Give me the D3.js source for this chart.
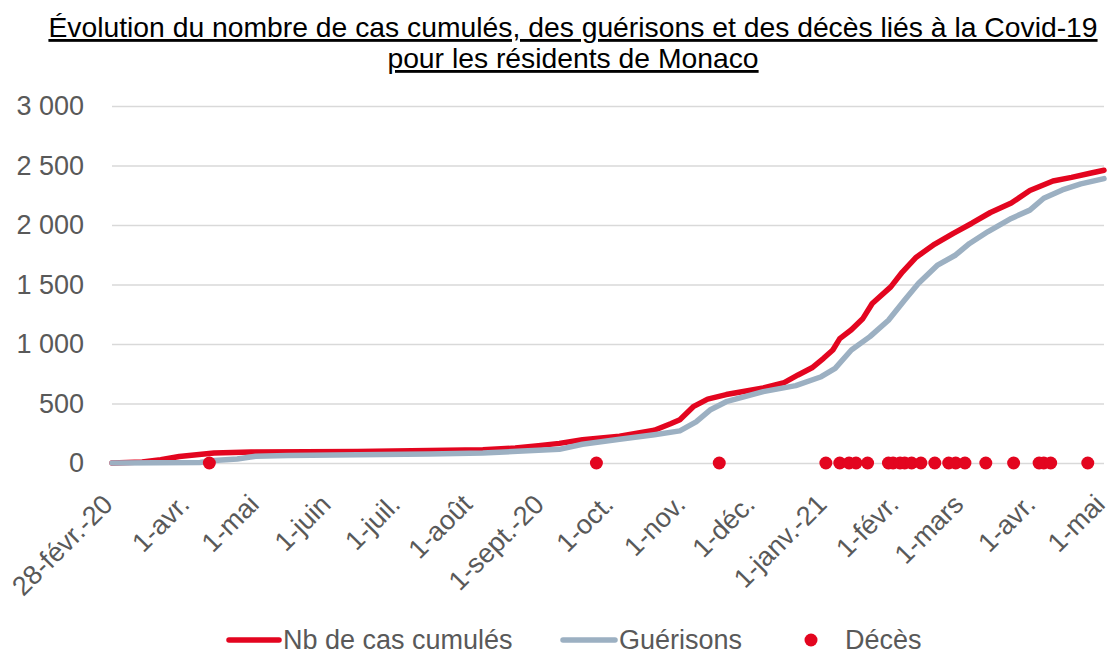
<!DOCTYPE html>
<html>
<head>
<meta charset="utf-8">
<script src="https://cdn.jsdelivr.net/npm/d3@7"></script>
<style>
  body { margin: 0; background: #fff; }
  svg { display: block; font-family: "Liberation Sans", Arial, sans-serif; }
</style>
</head>
<body>
<svg id="chart" width="1110" height="655"></svg>
<script>
const titleLines = [
    "Évolution du nombre de cas cumulés, des guérisons et des décès liés à la Covid-19",
    "pour les résidents de Monaco"
];

// cumulative cases
const casDates = ["2020-02-28", "2020-03-12", "2020-03-20", "2020-03-28", "2020-04-12", "2020-04-28",
    "2020-06-13", "2020-07-14", "2020-08-06", "2020-08-20", "2020-08-30", "2020-09-08", "2020-09-18",
    "2020-10-04", "2020-10-19", "2020-10-26", "2020-10-30", "2020-11-05", "2020-11-11", "2020-11-19",
    "2020-12-05", "2020-12-14", "2020-12-20", "2020-12-26", "2020-12-31", "2021-01-04", "2021-01-07",
    "2021-01-12", "2021-01-17", "2021-01-21", "2021-01-29", "2021-02-03", "2021-02-09", "2021-02-17",
    "2021-02-25", "2021-03-05", "2021-03-13", "2021-03-22", "2021-03-30", "2021-04-09", "2021-04-17",
    "2021-04-25", "2021-05-01"];
const casValues = [0, 8, 28, 55, 84, 92,
    96, 104, 112, 126, 146, 165, 196,
    225, 275, 330, 364, 476, 537, 575,
    630, 675, 740, 800, 880, 950, 1045,
    1120, 1215, 1340, 1480, 1605, 1730, 1840,
    1930, 2015, 2105, 2185, 2290, 2370, 2400,
    2435, 2460];

// recoveries
const guerDates = ["2020-02-28", "2020-04-06", "2020-04-12", "2020-04-22", "2020-04-30", "2020-05-14",
    "2020-06-13", "2020-07-14", "2020-08-06", "2020-08-21", "2020-09-08", "2020-09-18", "2020-10-04",
    "2020-10-19", "2020-10-30", "2020-11-06", "2020-11-12", "2020-11-19", "2020-12-05", "2020-12-19",
    "2020-12-30", "2021-01-05", "2021-01-12", "2021-01-20", "2021-01-28", "2021-02-04", "2021-02-10",
    "2021-02-18", "2021-02-26", "2021-03-04", "2021-03-12", "2021-03-22", "2021-03-30", "2021-04-05",
    "2021-04-13", "2021-04-21", "2021-05-01"];
const guerValues = [0, 5, 22, 34, 56, 64,
    70, 75, 84, 98, 115, 158, 200,
    238, 270, 345, 445, 515, 600, 650,
    725, 795, 950, 1062, 1200, 1370, 1510,
    1660, 1748, 1845, 1945, 2055, 2125, 2225,
    2295, 2345, 2390];

// days with a death (plotted at 0)
const decesDates = ["2020-04-10", "2020-09-24", "2020-11-16",
    "2021-01-01", "2021-01-07", "2021-01-11", "2021-01-14", "2021-01-19", "2021-01-28", "2021-01-30",
    "2021-02-02", "2021-02-04", "2021-02-07", "2021-02-11", "2021-02-17", "2021-02-23", "2021-02-26",
    "2021-03-02", "2021-03-11", "2021-03-23", "2021-04-03", "2021-04-05", "2021-04-08", "2021-04-24"];

const tickDates = ["2020-02-28", "2020-04-01", "2020-05-01", "2020-06-01", "2020-07-01", "2020-08-01",
    "2020-09-01", "2020-10-01", "2020-11-01", "2020-12-01", "2021-01-01", "2021-02-01", "2021-03-01",
    "2021-04-01", "2021-05-01"];
const tickLabels = ["28-févr.-20", "1-avr.", "1-mai", "1-juin", "1-juil.", "1-août",
    "1-sept.-20", "1-oct.", "1-nov.", "1-déc.", "1-janv.-21", "1-févr.", "1-mars",
    "1-avr.", "1-mai"];
const yTicks = [0, 500, 1000, 1500, 2000, 2500, 3000];

const seriesNames = ["Nb de cas cumulés", "Guérisons", "Décès"];
const colors = { cas: "#e3051f", guer: "#9cb0c2", text: "#595959", grid: "#d9d9d9" };

const parse = d3.timeParse("%Y-%m-%d");
const cas = casDates.map((d, i) => ({ date: parse(d), value: casValues[i] }));
const guer = guerDates.map((d, i) => ({ date: parse(d), value: guerValues[i] }));
const deces = decesDates.map(d => ({ date: parse(d), value: 0 }));

const svg = d3.select("#chart");
const margin = { top: 106, right: 6, bottom: 192, left: 112 };
const width = 1110, height = 655;

const x = d3.scaleTime()
    .domain([parse(tickDates[0]), parse(tickDates[tickDates.length - 1])])
    .range([margin.left, width - margin.right]);
const y = d3.scaleLinear()
    .domain([0, 3000])
    .range([height - margin.bottom, margin.top]);

const fr = d3.formatLocale({ decimal: ",", thousands: " ", grouping: [3], currency: ["", " €"] });

// title
svg.append("g").selectAll("text")
    .data(titleLines)
    .join("text")
    .attr("x", 573)
    .attr("y", (d, i) => 37 + i * 31)
    .attr("text-anchor", "middle")
    .attr("font-size", 28.3)
    .attr("fill", "#000")
    .style("text-decoration", "underline")
    .text(d => d);

// y axis + grid
const yAxisG = svg.append("g")
    .attr("transform", `translate(${margin.left},0)`)
    .call(d3.axisLeft(y)
        .tickValues(yTicks)
        .tickSize(-(width - margin.left - margin.right))
        .tickPadding(28)
        .tickFormat(fr.format(",")));
yAxisG.select(".domain").remove();
yAxisG.selectAll("line").attr("stroke", colors.grid).attr("stroke-width", 1.5);
yAxisG.selectAll("text")
    .attr("font-size", 27)
    .attr("font-family", "Liberation Sans, Arial, sans-serif")
    .attr("fill", colors.text);

// x axis
const xAxisG = svg.append("g")
    .attr("transform", `translate(0,${y(0)})`)
    .call(d3.axisBottom(x)
        .tickValues(tickDates.map(parse))
        .tickSize(0)
        .tickFormat((d, i) => tickLabels[i]));
xAxisG.select(".domain").remove();
xAxisG.selectAll("text")
    .attr("font-size", 27)
    .attr("font-family", "Liberation Sans, Arial, sans-serif")
    .attr("fill", colors.text)
    .attr("text-anchor", "end")
    .attr("x", 0).attr("y", 0).attr("dy", 0)
    .attr("transform", "translate(2,43) rotate(-45)");

// lines
const line = d3.line()
    .x(d => x(d.date))
    .y(d => y(d.value));

svg.append("path")
    .datum(cas)
    .attr("fill", "none")
    .attr("stroke", colors.cas)
    .attr("stroke-width", 5.5)
    .attr("stroke-linejoin", "round")
    .attr("stroke-linecap", "round")
    .attr("d", line);

svg.append("path")
    .datum(guer)
    .attr("fill", "none")
    .attr("stroke", colors.guer)
    .attr("stroke-width", 5.5)
    .attr("stroke-linejoin", "round")
    .attr("stroke-linecap", "round")
    .attr("d", line);

svg.append("g").selectAll("circle")
    .data(deces)
    .join("circle")
    .attr("cx", d => x(d.date))
    .attr("cy", d => y(d.value))
    .attr("r", 6.5)
    .attr("fill", colors.cas);

// legend
const legendY = 640;
const legendG = svg.append("g").attr("font-size", 27).attr("fill", colors.text);

legendG.append("line")
    .attr("x1", 229).attr("x2", 279)
    .attr("y1", legendY).attr("y2", legendY)
    .attr("stroke", colors.cas).attr("stroke-width", 5.5).attr("stroke-linecap", "round");
legendG.append("text").attr("x", 283).attr("y", legendY + 9).text(seriesNames[0]);

legendG.append("line")
    .attr("x1", 563).attr("x2", 615)
    .attr("y1", legendY).attr("y2", legendY)
    .attr("stroke", colors.guer).attr("stroke-width", 5.5).attr("stroke-linecap", "round");
legendG.append("text").attr("x", 619).attr("y", legendY + 9).text(seriesNames[1]);

legendG.append("circle")
    .attr("cx", 811).attr("cy", legendY).attr("r", 6.5)
    .attr("fill", colors.cas);
legendG.append("text").attr("x", 845).attr("y", legendY + 9).text(seriesNames[2]);
</script>
</body>
</html>
